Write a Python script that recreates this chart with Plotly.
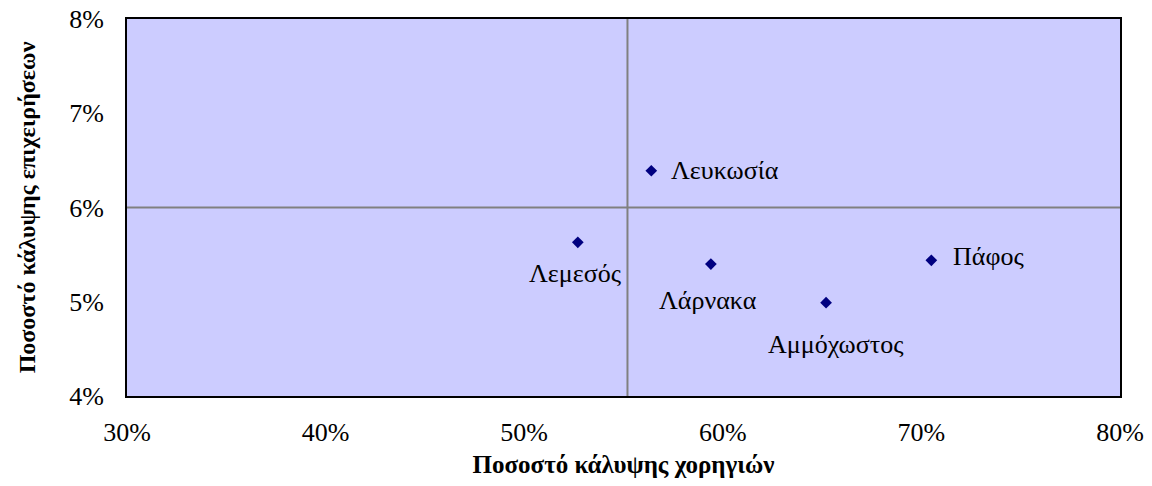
import plotly.graph_objects as go

# επαρχίες και ποσοστά κάλυψης (%)
districts = ["Λευκωσία", "Λεμεσός", "Λάρνακα", "Αμμόχωστος", "Πάφος"]
grant_cov = [56.4, 52.7, 59.4, 65.2, 70.5]      # Ποσοστό κάλυψης χορηγιών
business_cov = [6.39, 5.63, 5.40, 4.99, 5.44]   # Ποσοστό κάλυψης επιχειρήσεων

# σημεία τομής αξόνων (μέσοι όροι)
x_cross = 55.2
y_cross = 6.0

x_ticks = [30, 40, 50, 60, 70, 80]
y_ticks = [4, 5, 6, 7, 8]
x_labels = [f"{v}%" for v in x_ticks]
y_labels = [f"{v}%" for v in y_ticks]

# θέση ετικέτας για κάθε επαρχία: (xanchor, xshift, yshift)
label_pos = {
    "Λευκωσία": ("left", 18, 0),
    "Λεμεσός": ("center", -2, -31),
    "Λάρνακα": ("center", -3, -36),
    "Αμμόχωστος": ("center", 10, -42),
    "Πάφος": ("left", 20, 4),
}

serif = "Liberation Serif, Times New Roman, serif"

fig = go.Figure()
fig.add_trace(go.Scatter(
    x=grant_cov, y=business_cov, mode="markers",
    marker=dict(symbol="diamond", size=9, color="#000080"),
    hoverinfo="text", text=districts, showlegend=False,
))

for name, xv, yv in zip(districts, grant_cov, business_cov):
    anchor, dx, dy = label_pos[name]
    fig.add_annotation(x=xv, y=yv, text=name, showarrow=False,
                       xanchor=anchor, yanchor="middle", xshift=dx, yshift=dy,
                       font=dict(family=serif, size=26, color="black"))

# γραμμές τομής
fig.add_shape(type="line", x0=x_cross, x1=x_cross, y0=y_ticks[0], y1=y_ticks[-1],
              line=dict(color="#808080", width=2), layer="below")
fig.add_shape(type="line", x0=x_ticks[0], x1=x_ticks[-1], y0=y_cross, y1=y_cross,
              line=dict(color="#808080", width=2), layer="below")

# η σελίδα έχει 8px περιθώριο, οπότε το σχήμα μικραίνει αντίστοιχα
fig.update_layout(
    width=1136, height=470,
    margin=dict(l=119, r=24, t=11, b=82),
    paper_bgcolor="white", plot_bgcolor="#CCCCFF",
    font=dict(family=serif, size=26, color="black"),
    xaxis=dict(
        range=[x_ticks[0], x_ticks[-1]], tickvals=x_ticks, ticktext=x_labels,
        showgrid=False, zeroline=False, ticks="", ticklabelstandoff=12,
        automargin=False, ticklabeloverflow="allow",
        showline=True, mirror=True, linecolor="black", linewidth=2,
        title=dict(text="<b>Ποσοστό κάλυψης χορηγιών</b>", standoff=29,
                   font=dict(family=serif, size=25)),
    ),
    yaxis=dict(
        range=[y_ticks[0], y_ticks[-1]], tickvals=y_ticks, ticktext=y_labels,
        showgrid=False, zeroline=False, ticks="", ticklabelstandoff=16,
        automargin=False, ticklabeloverflow="allow",
        showline=True, mirror=True, linecolor="black", linewidth=2,
        title=dict(text="<b>Ποσοστό κάλυψης επιχειρήσεων</b>", standoff=27,
                   font=dict(family=serif, size=24)),
    ),
)

fig.write_html("out.html")
